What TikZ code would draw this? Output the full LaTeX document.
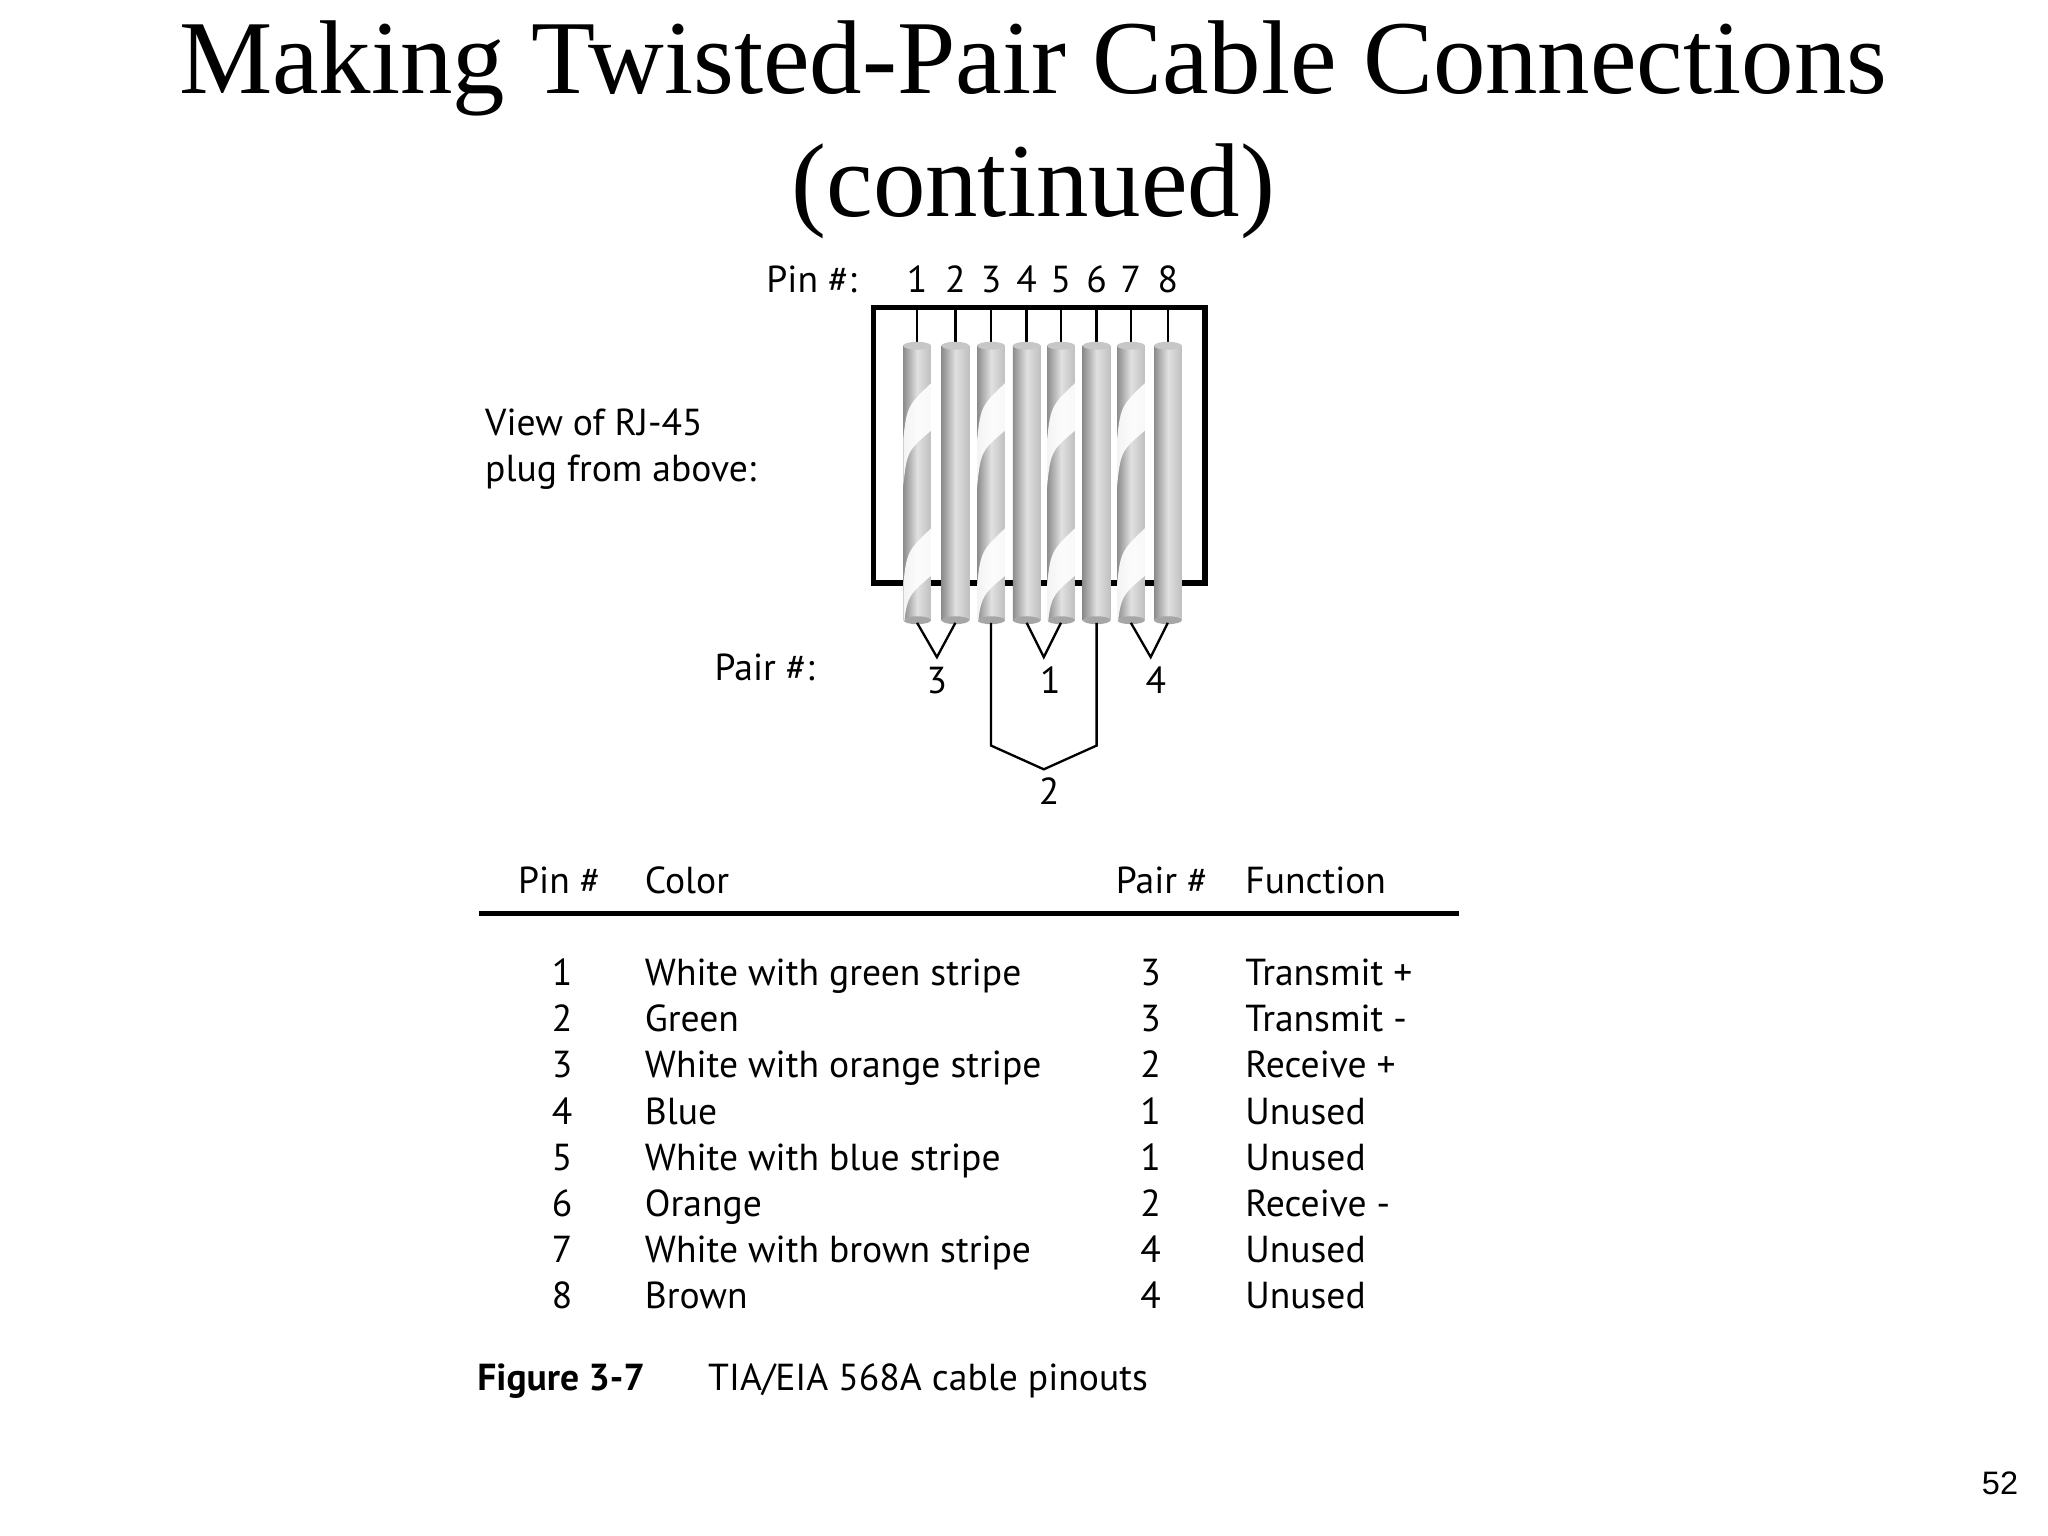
\documentclass[tikz,border=0pt]{standalone}
\usepackage{fontspec}
\setmainfont{Liberation Serif}
\newfontfamily\tf{PT Sans}
\newfontfamily\pg{Liberation Sans}
\begin{document}
\begin{tikzpicture}[x=0.01cm,y=-0.01cm,
  lab/.style={font=\tf\fontsize{8.1}{10}\selectfont,inner sep=0,text height=1.45ex,text depth=0.35ex},
  ln/.style={line width=0.5pt,black},
  wire/.style={left color=black!45,right color=black!25,middle color=black!12,draw=none}]
\useasboundingbox[fill=white] (0,0) rectangle (1552,1164);
\node[font=\fontsize{22.6}{28}\selectfont,inner sep=0] (t1) at (783,52) {Making Twisted-Pair Cable Connections};
\node[font=\fontsize{22.6}{28}\selectfont,inner sep=0] (t2) at (783,145) {(continued)};
% plug box
\draw[line width=1.2pt] (662,233) rectangle (913,442);
\foreach \i/\x in {1/695,2/724,3/751,4/778,5/804,6/831,7/857,8/885}{
  \node[lab] (p\i) at (\x,213) {\i};
  \coordinate (top\i) at (\x,260);
  \coordinate (bot\i) at (\x,472);
  \draw[ln] (\x,234) -- (top\i);
  \fill[wire] (\x-10.5,262) rectangle (\x+10.5,470);
  \fill[black!22] (\x,262) ellipse (10.5 and 3);
  \fill[black!35] (\x,470) ellipse (10.5 and 3);
}
\foreach \x in {695,751,804,857}{
  \begin{scope}
  \clip (\x-10.5,262) rectangle (\x+10.5,473);
  \foreach \yy in {290,400}{
    \fill[white,opacity=0.9] (\x-11,\yy+48) .. controls (\x-8,\yy+18) .. (\x+11,\yy) -- (\x+11,\yy+36) .. controls (\x-8,\yy+52) .. (\x-11,\yy+84) -- cycle;
  }
  \end{scope}
}
\node[lab,anchor=east] (pinl) at (650,213) {Pin \#:};
\node[lab,anchor=west] (view1) at (367,321) {View of RJ-45};
\node[lab,anchor=west] (view2) at (367,356) {plug from above:};
\node[lab,anchor=east] (pairl) at (618,507) {Pair \#:};
% pairs
\coordinate (v3) at (710,498); \coordinate (v1) at (791,498); \coordinate (v4) at (872,498);
\draw[ln] (bot1) -- (v3) -- (bot2);
\draw[ln] (bot4) -- (v1) -- (bot5);
\draw[ln] (bot7) -- (v4) -- (bot8);
\coordinate (b3) at (751,565); \coordinate (b6) at (831,565); \coordinate (v2) at (791,583);
\draw[ln] (bot3) -- (b3) -- (v2) -- (b6) -- (bot6);
\node[lab] (n3) at (710,517) {3};
\node[lab] (n1) at (796,517) {1};
\node[lab] (n4) at (876,517) {4};
\node[lab] (n2) at (795,601) {2};
% table
\node[lab,anchor=west] (h1) at (392,668) {Pin \#};
\node[lab,anchor=west] (h2) at (488,668) {Color};
\node[lab,anchor=west] (h3) at (845,668) {Pair \#};
\node[lab,anchor=west] (h4) at (943,668) {Function};
\draw[line width=1.1pt] (363,692) -- (1106,692);
\foreach \n/\c/\p/\f [count=\k from 0] in {
 1/White with green stripe/3/Transmit +,
 2/Green/3/Transmit -,
 3/White with orange stripe/2/Receive +,
 4/Blue/1/Unused,
 5/White with blue stripe/1/Unused,
 6/Orange/2/Receive -,
 7/White with brown stripe/4/Unused,
 8/Brown/4/Unused}{
  \node[lab] (pn\k) at (426,738+35*\k) {\n};
  \node[lab,anchor=west] (cl\k) at (488,738+35*\k) {\c};
  \node[lab] (pr\k) at (872,738+35*\k) {\p};
  \node[lab,anchor=west] (fn\k) at (943,738+35*\k) {\f};
}
\node[lab,anchor=west] (cap1) at (361,1045) {\bfseries Figure 3-7};
\node[lab,anchor=west] (cap2) at (536,1045) {TIA/EIA 568A cable pinouts};
\node[font=\pg\fontsize{7}{8}\selectfont,anchor=east,inner sep=0] (pgn) at (1530,1124) {52};
\end{tikzpicture}
\end{document}
